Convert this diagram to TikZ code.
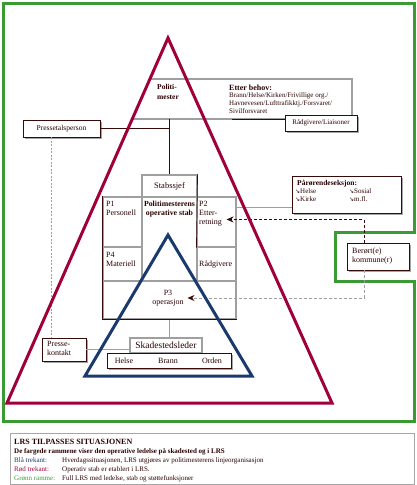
\documentclass[tikz,border=0pt]{standalone}
\usepackage{fontspec}
\setmainfont{Liberation Serif}
\newfontfamily\symfont{DejaVu Sans}
\usepackage{xcolor}
\usetikzlibrary{positioning,shadows,arrows.meta}
\definecolor{lrsgreen}{RGB}{58,154,52}
\definecolor{lrsred}{RGB}{160,0,58}
\definecolor{lrsblue}{RGB}{26,58,110}
\definecolor{boxdark}{RGB}{55,10,10}
\definecolor{txtdark}{RGB}{40,0,0}
\tikzset{
	cell/.style={rectangle, draw=gray!75, line width=1.1pt, inner sep=0pt, text=txtdark, font=\fontsize{8}{9}\selectfont},
	shadowbox/.style={rectangle, draw=boxdark, fill=white, line width=0.7pt, inner sep=0pt, text=txtdark,
		drop shadow={shadow xshift=1.6pt, shadow yshift=-1.6pt, fill=gray!70, opacity=1}},
	txt/.style={inner sep=0pt, text=txtdark, font=\fontsize{8}{9}\selectfont, align=left},
	smalltxt/.style={inner sep=0pt, text=txtdark, font=\fontsize{7}{8}\selectfont, align=left},
	grayline/.style={draw=gray!75, line width=1.1pt},
	darkline/.style={draw=boxdark, line width=0.7pt},
	mydashed/.style={dash pattern=on 3pt off 2pt, line width=0.7pt}
}
\newcommand{\bul}{{\symfont\fontsize{6}{6}\selectfont ↘}}

\begin{document}
\begin{tikzpicture}[x=1pt, y=-1pt]
	\useasboundingbox (0,0) rectangle (416,485);
	%Green frame
	\draw[lrsgreen, line width=3pt] (3,3) -- (414,3) -- (414,232) -- (335,232) -- (335,281) -- (414,281) -- (414,421) -- (3,421) -- cycle;
	
	%Politimester frame
	\draw[grayline] (150,79) -- (352,79) -- (352,119) -- (133,119);
	\coordinate (polbase) at (232,119);
	\node[txt, font=\bfseries\fontsize{7.5}{10}\selectfont, anchor=north west] at (157,84.5) (polm) {Politi-\\mester};
	\node[txt, font=\bfseries\fontsize{8}{9}\selectfont, anchor=west] at (229,88) (behov) {Etter behov:};
	\node[smalltxt, anchor=north west] at (229,92.5) (behovlist) {Brann/Helse/Kirken/Frivillige org./\\Havnevesen/Lufttrafikktj./Forsvaret/\\Sivilforsvaret};
	
	%Boxes
	\node[shadowbox, minimum width=77, minimum height=17, font=\fontsize{7.5}{9}\selectfont] at (61.5,128.5) (press) {Pressetalsperson};
	\node[shadowbox, minimum width=72, minimum height=16, font=\fontsize{7}{8}\selectfont] at (321,123) (radg) {Rådgivere/Liaisoner};
	\node[shadowbox, minimum width=109, minimum height=37] at (346.5,194.5) (paar) {};
	\node[smalltxt, font=\bfseries\fontsize{7.5}{8}\selectfont, anchor=west] at (297,184) (paartitle) {Pårørendeseksjon:};
	\node[smalltxt, anchor=west] at (295,191.5) (phelse) {\bul Helse};
	\node[smalltxt, anchor=west] at (349,191.5) (psosial) {\bul Sosial};
	\node[smalltxt, anchor=west] at (295,199.5) (pkirke) {\bul Kirke};
	\node[smalltxt, anchor=west] at (349,199.5) (pmfl) {\bul m.fl.};
	\node[shadowbox, minimum width=62, minimum height=27] at (378,256.5) (berort) {};
	\node[txt, anchor=north west] at (352,248) (berorttxt) {Berørt(e)\\kommune(r)};
	\node[shadowbox, minimum width=44, minimum height=23] at (64,349.5) (pkontakt) {};
	\node[txt, anchor=north west] at (47,341) (pkontakttxt) {Presse-\\kontakt};
	
	%Stab
	\node[cell, minimum width=55, minimum height=22, font=\fontsize{8.5}{9}\selectfont] at (169.5,186) (stabssjef) {Stabssjef};
	\node[cell, minimum width=39, minimum height=50] at (122.5,222) (p1) {};
	\node[cell, minimum width=39, minimum height=34] at (122.5,264) (p4) {};
	\node[cell, minimum width=55, minimum height=84] at (169.5,239) (pos) {};
	\node[cell, minimum width=39, minimum height=50] at (216.5,222) (p2) {};
	\node[cell, minimum width=39, minimum height=34] at (216.5,264) (radgcell) {};
	\node[cell, minimum width=133, minimum height=38] at (169.5,300) (p3) {};
	\draw[darkline] (p1.north west) -- (p3.south west) -- (p3.south east);
	\draw[darkline] (stabssjef.north east) -- (p2.south west);
	\node[txt, anchor=north west] at (106,201) (p1txt) {P1\\Personell};
	\node[txt, font=\bfseries\fontsize{7.8}{9}\selectfont, align=center, anchor=north] at (169.5,201) (postxt) {Politimesterens\\operative stab};
	\node[txt, anchor=north west] at (199,201) (p2txt) {P2\\Etter-\\retning};
	\node[txt, anchor=north west] at (106,252) (p4txt) {P4\\Materiell};
	\node[txt, anchor=west] at (199,264) (radgtxt) {Rådgivere};
	\node[txt, align=center, anchor=north] at (168,290) (p3txt) {P3\\operasjon};
	
	%Skadested
	\node[cell, fill=white, minimum width=72, minimum height=15, font=\fontsize{9.5}{10}\selectfont] at (166,345.5) (skade) {Skadestedsleder};
	\node[shadowbox, minimum width=124, minimum height=15] at (169,360.5) (hbo) {};
	\node[txt] at (124,361) (helse) {Helse};
	\node[txt] at (168,361) (brann) {Brann};
	\node[txt] at (212,361) (orden) {Orden};
	
	%Lines
	\draw[darkline] (stabssjef.north) -- (stabssjef.north |- polbase);
	\draw[darkline] (press.east) -- (stabssjef.north |- press.east);
	\draw[darkline] (polbase) -- (radg.west |- polbase);
	\draw[grayline] ([yshift=-11pt]p2.north east) -- ([yshift=-11pt]p2.north east -| paar.west);
	\draw[darkline, mydashed, -{Stealth[length=7pt,width=6pt]}] ([xshift=-14pt]berort.north) |- ([xshift=-10pt,yshift=-23pt]p2.north east);
	\draw[gray!75, mydashed, line width=0.9pt, -{Stealth[length=7pt,width=6pt,color=boxdark]}] ([xshift=-14pt]berort.south) |- ([xshift=18pt,yshift=2pt]p3.center);
	\draw[gray!75, dash pattern=on 2pt off 1.5pt, line width=0.9pt] ([xshift=-10.5pt]press.south) -- ([xshift=-10.5pt]press.south |- pkontakt.north);
	\draw[gray!75, line width=0.9pt] (pkontakt.east) -- (pkontakt.east -| skade.west);
	\draw[grayline] (p3.south) -- (p3.south |- skade.north);
	
	%Triangles
	\draw[lrsred, line width=3pt] (7,403) -- (168,38) -- (332,403) -- cycle;
	\draw[lrsblue, line width=3pt] (85,376) -- (168,235) -- (252,376) -- cycle;
	
	%Legend
	\node[draw=gray!70, line width=0.8pt, minimum width=404, minimum height=51, inner sep=0pt] at (212,458.5) (legend) {};
	\node[smalltxt, font=\bfseries\fontsize{8}{9}\selectfont, anchor=west] at (14,442) (legtitle) {LRS TILPASSES SITUASJONEN};
	\node[smalltxt, font=\bfseries\fontsize{7}{8}\selectfont, anchor=west] at (14,451.5) (legnote) {De fargede rammene viser den operative ledelse på skadested og i LRS};
	\node[smalltxt, text=lrsblue, anchor=west] at (14,460.5) (legblue) {Blå trekant:};
	\node[smalltxt, anchor=west] at (62,460.5) (legbluetxt) {Hverdagssituasjonen, LRS utgjøres av politimesterens linjeorganisasjon};
	\node[smalltxt, text=lrsred, anchor=west] at (14,469.5) (legred) {Rød trekant:};
	\node[smalltxt, anchor=west] at (62,469.5) (legredtxt) {Operativ stab er etablert i LRS.};
	\node[smalltxt, text=lrsgreen, anchor=west] at (14,478.5) (leggreen) {Grønn ramme:};
	\node[smalltxt, anchor=west] at (62,478.5) (leggreentxt) {Full LRS med ledelse, stab og støttefunksjoner};
\end{tikzpicture}
\end{document}
